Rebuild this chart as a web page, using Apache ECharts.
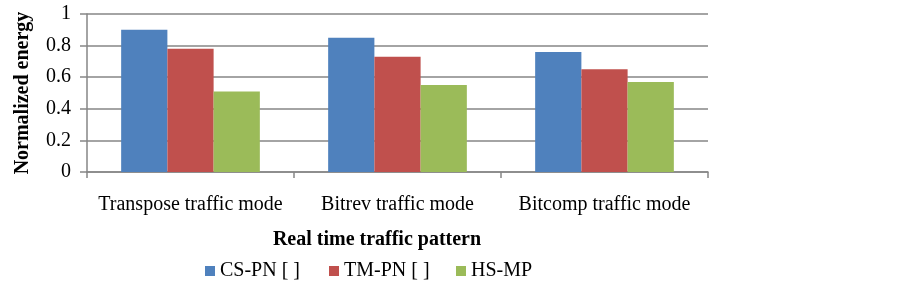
<!DOCTYPE html>
<html><head><meta charset="utf-8">
<script src="https://cdn.jsdelivr.net/npm/echarts@6/dist/echarts.min.js"></script>
<style>html,body{margin:0;padding:0;background:#fff}#c{width:903px;height:287px}</style>
</head><body><div id="c"></div>
<script>
const categories = ['Transpose traffic mode', 'Bitrev traffic mode', 'Bitcomp traffic mode'];
const seriesNames = ['CS-PN [ ]', 'TM-PN [ ]', 'HS-MP'];
const csPN = [0.90, 0.85, 0.76];
const tmPN = [0.78, 0.73, 0.65];
const hsMP = [0.51, 0.55, 0.57];
const yTicks = ['0', '0.2', '0.4', '0.6', '0.8', '1'];

const colors = ['#4F81BD', '#C0504D', '#9BBB59'];
const font = '"Liberation Serif", "Times New Roman", serif';
const legendLefts = [205, 329, 456];
const chart = echarts.init(document.getElementById('c'));
const data = [csPN, tmPN, hsMP];
chart.setOption({
  animation: false,
  grid: {left: 87, right: 195, top: 14, bottom: 115, containLabel: false, outerBoundsMode: 'none'},
  legend: seriesNames.map((n, i) => ({
    data: [n], left: legendLefts[i], top: 261, itemWidth: 10, itemHeight: 10, padding: 0,
    icon: 'rect',
    textStyle: {fontFamily: font, fontSize: 20, color: '#000'}
  })),
  graphic: [{
    type: 'text', style: {text: 'Real time traffic pattern', x: 377, y: 240, textAlign: 'center', textVerticalAlign: 'middle',
      font: 'bold 20px ' + font, fill: '#000'}
  }],
  xAxis: {
    type: 'category', data: categories,
    axisLine: {lineStyle: {color: '#868686', width: 1.5}},
    axisTick: {show: true, length: 6, lineStyle: {color: '#868686', width: 1.5}},
    axisLabel: {fontFamily: font, fontSize: 20, color: '#000', margin: 23, interval: 0}
  },
  yAxis: {
    type: 'value', min: 0, max: 1, interval: 0.2,
    name: 'Normalized energy', nameLocation: 'middle', nameGap: 54,
    nameTextStyle: {fontFamily: font, fontSize: 20, fontWeight: 'bold', color: '#000'},
    axisLine: {show: true, lineStyle: {color: '#868686', width: 1.5}},
    axisTick: {show: true, length: 7, lineStyle: {color: '#868686', width: 1.5}},
    splitLine: {lineStyle: {color: '#868686', width: 1.5}},
    axisLabel: {fontFamily: font, fontSize: 20, color: '#000', margin: 16,
      formatter: v => yTicks[Math.round(v / 0.2)]}
  },
  series: seriesNames.map((n, i) => ({
    name: n, type: 'bar', data: data[i], barGap: '0%', barCategoryGap: '33%',
    itemStyle: {color: colors[i]}
  }))
});
</script></body></html>
